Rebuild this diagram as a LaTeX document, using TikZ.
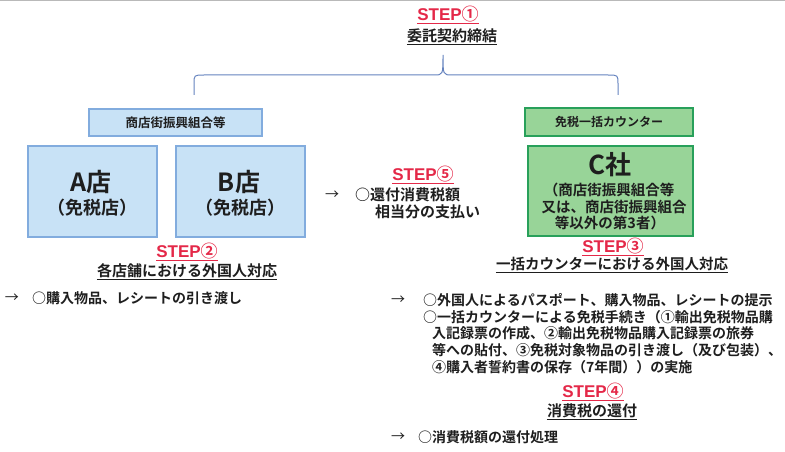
\documentclass[tikz,border=0pt]{standalone}
\usepackage{fontspec}
\setmainfont{Noto Sans CJK JP}[BoldFont={Noto Sans CJK JP Bold}]
\newfontfamily\latfont{Liberation Sans}
\definecolor{stepred}{RGB}{228,40,72}
\definecolor{txtgray}{RGB}{30,30,30}
\definecolor{bluefill}{RGB}{200,226,246}
\definecolor{blueline}{RGB}{130,172,222}
\definecolor{greenfill}{RGB}{152,212,152}
\definecolor{greenline}{RGB}{40,160,90}
\definecolor{bracecol}{RGB}{100,130,190}
\newcommand\steplbl[1]{{\latfont\bfseries STEP}{\bfseries #1}}
\newcommand\fs[2]{\fontsize{#1}{#2}\selectfont}
\tikzset{
  x=1pt, y=-1pt,
  lbl/.style={inner sep=0pt, text=txtgray, font=\bfseries\fs{14}{17}},
  steptag/.style={inner sep=0pt, text=stepred, font=\fs{17}{20}},
  titletxt/.style={inner sep=0pt, text=txtgray, font=\bfseries\fs{15}{18}},
  bluebox/.style={draw=blueline, fill=bluefill, line width=1.2pt, inner sep=0pt},
  greenbox/.style={draw=greenline, fill=greenfill, line width=1.4pt, inner sep=0pt},
  redul/.style={stepred, line width=1pt},
  blackul/.style={txtgray, line width=1pt},
}
\begin{document}
\begin{tikzpicture}
\useasboundingbox (0,0) rectangle (785,452);
\draw[gray!55, line width=1.5pt] (0,0.75) -- (785,0.75);

% STEP 1
\node[steptag] (s1) at (448,14) {\steplbl{①}};
\draw[redul] ([yshift=-1.5pt]s1.south west) -- ([yshift=-1.5pt]s1.south east);
\node[titletxt] (t1) at (452,36) {委託契約締結};
\draw[blackul] ([yshift=-1.5pt]t1.south west) -- ([yshift=-1.5pt]t1.south east);

% brace
\coordinate (bl) at (194,95);
\coordinate (bm) at (443,55);
\coordinate (br) at (618,95);
\draw[bracecol, line width=1pt]
  (bl) -- (194,84) .. controls (194,75) .. (204,75) -- (434,75)
  .. controls (443,75) .. (bm)
  .. controls (443,75) .. (452,75) -- (608,75)
  .. controls (618,75) .. (618,84) -- (br);

% headers
\node[bluebox, minimum width=173pt, minimum height=27pt] (hb) at (175.5,122.5) {};
\node[lbl, font=\bfseries\fs{12.5}{15}] (hbt) at (hb.center) {商店街振興組合等};
\node[greenbox, minimum width=168pt, minimum height=28pt] (hg) at (609,122) {};
\node[lbl, font=\bfseries\fs{12}{15}] (hgt) at (hg.center) {免税一括カウンター};

% A, B, C boxes
\node[bluebox, minimum width=129pt, minimum height=91pt] (A) at (92.5,191.5) {};
\node[lbl, font=\bfseries\fs{25}{28}] (At) at (91,182) {A店};
\node[lbl, font=\bfseries\fs{18}{20}] (As) at (92,208) {（免税店）};
\node[bluebox, minimum width=129pt, minimum height=91pt] (B) at (240.5,191.5) {};
\node[lbl, font=\bfseries\fs{25}{28}] (Bt) at (239,182) {B店};
\node[lbl, font=\bfseries\fs{18}{20}] (Bs) at (240,208) {（免税店）};
\node[greenbox, minimum width=165pt, minimum height=90pt] (C) at (610.5,191) {};
\node[lbl, font=\bfseries\fs{26}{28}] (Ct) at (610,165) {C社};
\node[lbl, font=\bfseries\fs{14.5}{17}] (Cs1) at (609,190) {（商店街振興組合等};
\node[lbl, font=\bfseries\fs{14.5}{17}] (Cs2) at (614,207) {又は、商店街振興組合};
\node[lbl, font=\bfseries\fs{14.5}{17}] (Cs3) at (610,223) {等以外の第3者）};

% STEP 2
\node[steptag] (s2) at (187,251) {\steplbl{②}};
\draw[redul] ([yshift=-1.5pt]s2.south west) -- ([yshift=-1.5pt]s2.south east);
\node[titletxt] (t2) at (187,271) {各店舗における外国人対応};
\draw[blackul] ([yshift=-1.5pt]t2.south west) -- ([yshift=-1.5pt]t2.south east);
\node[lbl, font=\fs{14}{17}] (a2) at (12,298) {→};
\node[lbl, anchor=west] (l2) at (32,298) {○購入物品、レシートの引き渡し};

% STEP 5
\node[steptag] (s5) at (423,174) {\steplbl{⑤}};
\draw[redul] ([yshift=-1.5pt]s5.south west) -- ([yshift=-1.5pt]s5.south east);
\node[lbl, font=\fs{14}{17}] (a5) at (332,195) {→};
\node[lbl, anchor=west, font=\bfseries\fs{15}{17}] (l5a) at (355,195) {○還付消費税額};
\node[lbl, anchor=west, font=\bfseries\fs{15}{17}] (l5b) at (375,212) {相当分の支払い};

% STEP 3
\node[steptag] (s3) at (613,246) {\steplbl{③}};
\draw[redul] ([yshift=-1.5pt]s3.south west) -- ([yshift=-1.5pt]s3.south east);
\node[titletxt, font=\bfseries\fs{14.5}{17}] (t3) at (612,264) {一括カウンターにおける外国人対応};
\draw[blackul] ([yshift=-1.5pt]t3.south west) -- ([yshift=-1.5pt]t3.south east);
\node[lbl, font=\fs{14}{17}] (a3) at (398,300) {→};
\node[lbl, anchor=west] (l3a) at (423,300) {○外国人によるパスポート、購入物品、レシートの提示};
\node[lbl, anchor=west] (l3b) at (423,317) {○一括カウンターによる免税手続き（①輸出免税物品購};
\node[lbl, anchor=west] (l3c) at (432,333) {入記録票の作成、②輸出免税物品購入記録票の旅券};
\node[lbl, anchor=west] (l3d) at (432,350) {等への貼付、③免税対象物品の引き渡し（及び包装）、};
\node[lbl, anchor=west] (l3e) at (432,367) {④購入者誓約書の保存（7年間））の実施};

% STEP 4
\node[steptag] (s4) at (593,391) {\steplbl{④}};
\draw[redul] ([yshift=-1.5pt]s4.south west) -- ([yshift=-1.5pt]s4.south east);
\node[titletxt] (t4) at (592,411) {消費税の還付};
\draw[blackul] ([yshift=-1.5pt]t4.south west) -- ([yshift=-1.5pt]t4.south east);
\node[lbl, font=\fs{14}{17}] (a4) at (398,437) {→};
\node[lbl, anchor=west] (l4) at (418,437) {○消費税額の還付処理};
\end{tikzpicture}
\end{document}
